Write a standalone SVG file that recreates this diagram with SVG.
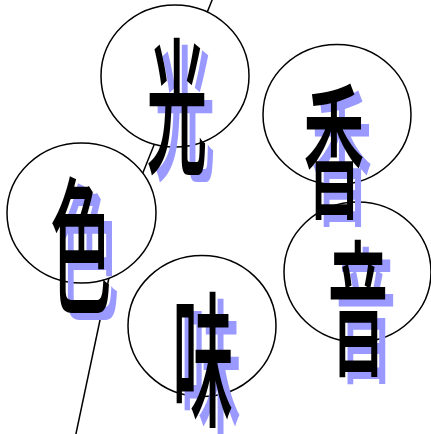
<svg xmlns="http://www.w3.org/2000/svg" width="431" height="434" viewBox="0 0 431 434">
<style>
.node ellipse{fill:#fff;stroke:#000;stroke-width:1.5}
.edge{stroke:#000;stroke-width:1.5;fill:none}
.g{font-family:"Noto Sans CJK JP","Noto Sans CJK SC",sans-serif;font-size:64px;font-weight:500;text-anchor:middle;dominant-baseline:central}
.sh{fill:#9999ff}
.fg{fill:#000}
</style>
<rect width="431" height="434" fill="#fff"/>
<g id="connectors">
<line class="edge" x1="214.5" y1="-6" x2="138" y2="185"/>
<line class="edge" x1="111" y1="268" x2="75.5" y2="436"/>
</g>
<g id="node-se" class="node">
<ellipse cx="81.5" cy="213" rx="74.5" ry="70"/>
<text class="g sh" transform="translate(89,243) scale(0.95,2.3)">色</text>
<text class="g fg" transform="translate(81,236) scale(0.95,2.3)">色</text>
</g>
<g id="node-hikari" class="node">
<ellipse cx="175" cy="76" rx="74" ry="71"/>
<text class="g sh" transform="translate(185,104) scale(0.95,2.3)">光</text>
<text class="g fg" transform="translate(177,97) scale(0.95,2.3)">光</text>
</g>
<g id="node-aji" class="node">
<ellipse cx="202" cy="326" rx="74" ry="70.5"/>
<text class="g sh" transform="translate(211,357) scale(0.95,2.3)">味</text>
<text class="g fg" transform="translate(203,350) scale(0.95,2.3)">味</text>
</g>
<g id="node-oto" class="node">
<ellipse cx="357.5" cy="272" rx="73.5" ry="70"/>
<text class="g sh" transform="translate(366,306) scale(0.95,2.3)">音</text>
<text class="g fg" transform="translate(358,299) scale(0.95,2.3)">音</text>
</g>
<g id="node-kaori" class="node">
<ellipse cx="337" cy="114.5" rx="74" ry="70"/>
<text class="g sh" transform="translate(342,149) scale(0.95,2.3)">香</text>
<text class="g fg" transform="translate(334,142) scale(0.95,2.3)">香</text>
</g>
</svg>
